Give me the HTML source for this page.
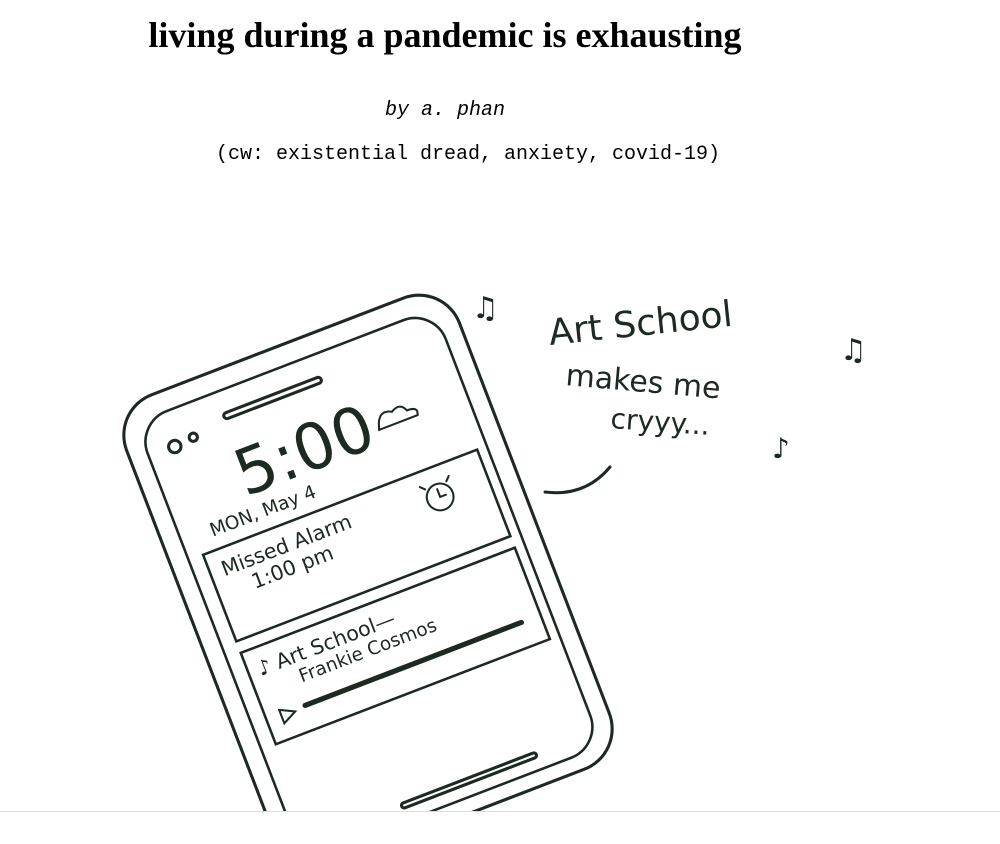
<!DOCTYPE html>
<html><head><meta charset="utf-8"><style>
html,body{margin:0;padding:0;background:#fff;width:1000px;height:843px;overflow:hidden}
.title{position:absolute;left:0;width:890px;top:14px;text-align:center;font:bold 36px "Liberation Serif",serif;color:#000}
.by{position:absolute;left:0;width:890px;top:99px;text-align:center;font:italic 20px "Liberation Mono",monospace}
.cw{position:absolute;left:0;width:936px;top:143px;text-align:center;font:20px "Liberation Mono",monospace}
.rule{position:absolute;left:0;top:811px;width:1000px;height:32px;background:#fff;border-top:1px solid #ddd}
svg{position:absolute;left:0;top:0}
.h{font-family:"DejaVu Sans","Liberation Sans",sans-serif;fill:#1c2a22}
</style></head><body>
<div class="title">living during a pandemic is exhausting</div>
<div class="by">by a. phan</div>
<div class="cw">(cw: existential dread, anxiety, covid-19)</div>
<svg width="1000" height="843" fill="none" stroke="#1c2a22" stroke-width="3" stroke-linecap="round">
 <g transform="translate(368,582) rotate(-21) scale(1.03)">
  <rect x="-173" y="-245" width="346" height="490" rx="42"/>
  <rect x="-155" y="-225" width="310" height="455" rx="32" stroke-width="2.5"/>
  <line x1="-70" y1="-200" x2="25" y2="-200" stroke-width="9"/>
  <line x1="-70" y1="-200" x2="25" y2="-200" stroke="#fff" stroke-width="3"/>
  <circle cx="-128" cy="-190" r="6"/>
  <circle cx="-108" cy="-192" r="4"/>
  <text x="-12" y="-120" text-anchor="middle" class="h" stroke="none" font-size="62">5:00</text>
  <path d="M65 -140 q5 -12 16 -6 q10 -6 14 4 q12 0 8 8 h-40 z" stroke-width="2"/>
  <text x="-125" y="-95" class="h" stroke="none" font-size="18">MON, May 4</text>
  <rect x="-140" y="-82" width="285" height="90" stroke-width="2.5"/>
  <text x="-128" y="-55" class="h" stroke="none" font-size="20">Missed Alarm</text>
  <text x="-105" y="-33" class="h" stroke="none" font-size="20">1:00 pm</text>
  <circle cx="95" cy="-52" r="13" stroke-width="2"/>
  <path d="M95 -60 v8 h6 M84 -64 l-4 -4 M106 -64 l4 -4" stroke-width="2"/>
  <rect x="-140" y="20" width="285" height="95" stroke-width="2.5"/>
  <text x="-130" y="48" class="h" stroke="none" font-size="20">♪ Art School—</text>
  <text x="-95" y="68" class="h" stroke="none" font-size="18">Frankie Cosmos</text>
  <path d="M-125 85 l14 7 l-14 7 z" stroke-width="2"/>
  <line x1="-100" y1="90" x2="125" y2="90" stroke-width="5"/>
  <line x1="-45" y1="215" x2="90" y2="215" stroke-width="8"/>
  <line x1="-45" y1="215" x2="90" y2="215" stroke="#fff" stroke-width="2"/>
 </g>
 <g>
  <text x="550" y="345" transform="rotate(-6 550 345)" class="h" stroke="none" font-size="36">Art School</text>
  <text x="565" y="385" transform="rotate(5 565 385)" class="h" stroke="none" font-size="30">makes me</text>
  <text x="610" y="428" transform="rotate(4 610 428)" class="h" stroke="none" font-size="28">cryyy...</text>
 </g>
 <path d="M545 492 q40 5 65 -25"/>
 <text x="472" y="318" class="h" stroke="none" font-size="30">♫</text>
 <text x="840" y="360" class="h" stroke="none" font-size="30">♫</text>
 <text x="772" y="458" class="h" stroke="none" font-size="28">♪</text>
</svg>
<div class="rule"></div>
</body></html>
